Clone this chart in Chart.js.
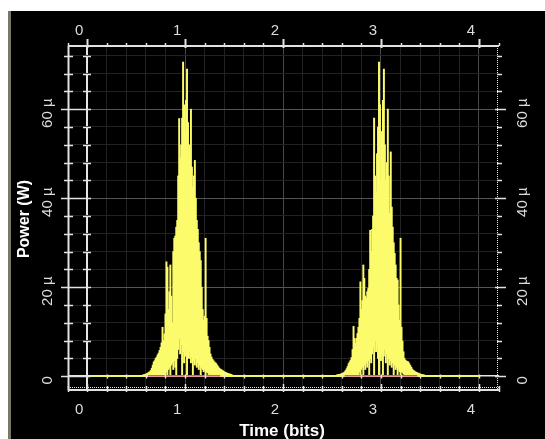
<!DOCTYPE html>
<html>
<head>
<meta charset="utf-8">
<script src="https://cdn.jsdelivr.net/npm/chart.js@4.4.0/dist/chart.umd.min.js"></script>
<style>
  html, body { margin: 0; padding: 0; background: #fff; }
  canvas { display: block; }
</style>
</head>
<body>
<canvas id="chart" width="545" height="439"></canvas>
<script>
// Axis ticks (time in bits, power in µW)
const xTickValues = [0, 1, 2, 3, 4];
const yTickValues = [0, 20, 40, 60];
const yTickLabels = ['0', '20 µ', '40 µ', '60 µ'];

// Pulse traces, sampled every 0.01 bit: upper and lower edge of the yellow trace (µW)
const sampleStep = 0.01;
const pulse1Start = 0.55;
const pulse1High = [
  0.2, 0.2, 0.3, 0.3, 0.4, 0.5, 0.6, 0.7, 0.9, 1.0,
  1.3, 1.8, 2.5, 3.2, 3.5, 4.0, 4.3, 4.8, 5.2, 5.8,
  6.5, 7.5, 11.0, 8.0, 9.5, 14.0, 25.7, 24.5, 15.0, 19.0,
  25.0, 18.0, 12.0, 28.0, 31.0, 31.5, 33.5, 35.0, 45.0, 57.9,
  49.0, 52.0, 58.0, 70.6, 61.0, 55.0, 62.0, 69.0, 57.0, 50.0,
  52.0, 60.0, 47.0, 42.5, 45.0, 48.5, 40.0, 35.0, 33.0, 30.0,
  28.0, 26.0, 20.0, 15.0, 12.6, 13.5, 31.0, 13.0, 9.0, 8.0,
  6.5, 5.0, 4.3, 3.8, 3.5, 3.2, 3.0, 2.8, 2.4, 2.1,
  1.8, 1.6, 1.5, 1.3, 1.2, 1.0, 0.9, 0.8, 0.7, 0.6,
  0.5, 0.5, 0.4, 0.3, 0.2, 0.2
];
const pulse1Low = [
  0, 0, 0, 0, 0, 0, 0, 0, 0, 0,
  0, 0, 0, 0, 0, 0, 0, 0, 0, 0,
  0, 0, 0, 0, 0,
  0, 1.0, 0, 1.5, 2.0, 0, 2.5, 3.0, 1.5, 3.5,
  2.0, 0, 4.0, 6.0, 8.5, 5.0, 7.0, 0, 5.5, 3.0,
  6.0, 4.5, 0, 5.0, 4.0, 5.5, 3.0, 4.5, 0, 3.5,
  2.5, 4.0, 2.0, 3.0, 1.5, 2.5, 0, 2.0, 1.5, 1.0,
  1.5, 0, 1.0, 0.8, 0, 0.5,
  0, 0, 0, 0, 0, 0, 0, 0, 0, 0,
  0, 0, 0, 0, 0, 0, 0, 0, 0, 0,
  0, 0, 0, 0, 0
];
const pulse2Start = 2.55;
const pulse2High = [
  0.3, 0.3, 0.4, 0.4, 0.5, 0.6, 0.7, 0.8, 1.0, 1.3,
  1.7, 2.2, 2.8, 3.2, 3.6, 4.2, 6.0, 11.2, 8.5, 7.4,
  8.5, 9.6, 11.0, 13.0, 21.2, 15.0, 17.0, 25.0, 22.0, 18.0,
  17.5, 19.0, 19.7, 24.0, 32.8, 28.0, 33.0, 36.0, 58.0, 45.0,
  41.5, 50.0, 56.0, 70.6, 61.0, 44.0, 55.0, 62.0, 69.0, 52.0,
  44.0, 48.0, 60.0, 45.0, 36.6, 50.4, 38.0, 33.5, 30.0, 27.6,
  25.0, 22.0, 21.6, 16.0, 12.6, 31.0, 11.0, 7.9, 5.5, 4.0,
  3.6, 3.4, 3.3, 3.2, 2.8, 2.4, 2.0, 1.6, 1.3, 1.2,
  1.0, 0.9, 0.8, 0.7, 0.6, 0.5, 0.4, 0.4, 0.3, 0.3,
  0.2, 0.2, 0.1, 0.1, 0.1, 0.1
];
const pulse2Low = [
  0, 0, 0, 0, 0, 0, 0, 0, 0, 0,
  0, 0, 0, 0, 0, 0, 0, 0, 0, 0,
  0, 0, 0,
  1.0, 0, 1.5, 2.0, 0, 2.5, 1.5, 3.0, 2.0, 3.5,
  0, 4.0, 3.0, 5.0, 6.5, 0, 8.0, 5.5, 7.0, 4.0,
  0, 6.0, 3.5, 5.0, 0, 4.5, 6.0, 3.0, 5.0, 0,
  4.0, 2.5, 3.5, 2.0, 3.0, 0, 2.5, 1.5, 2.0, 0,
  1.5, 1.0, 0, 1.0, 0.8, 0.5,
  0, 0, 0, 0, 0, 0, 0, 0, 0, 0,
  0, 0, 0, 0, 0, 0, 0, 0, 0, 0,
  0, 0, 0, 0, 0, 0, 0
];

// flat part of the yellow trace and the small magenta trace under the pulses
const baselineTimes = [0, 4];
const baselineValues = [0, 0];
const residualTimes = [0.62, 1.36, 2.0, 2.63, 3.37];
const residualValues = [0.1, 0.1, null, 0.1, 0.1];

function pulseBars(start, high, low) {
  return high.map((h, i) => ({ x: +(start + i * sampleStep).toFixed(2), y: [low[i] || 0, h] }));
}
function points(xs, ys) {
  return xs.map((t, i) => ({ x: t, y: ys[i] }));
}

const gridX = [];
for (let i = 0; i <= 20; i++) gridX.push(+(i * 0.2).toFixed(1));
const gridY = [];
for (let v = 0; v <= 72; v += 4) gridY.push(v);

const isInt = v => Math.abs(v - Math.round(v)) < 1e-6;

const frame = {
  id: 'frame',
  beforeDraw(chart) {
    const c = chart.ctx;
    c.save();
    c.fillStyle = '#ffffff';
    c.fillRect(0, 0, chart.width, chart.height);
    c.fillStyle = '#000000';
    c.fillRect(8, 11, chart.width - 8, chart.height - 11);
    c.fillStyle = '#7a7668';
    c.fillRect(8, 11, 3, chart.height - 11);
    c.restore();
  },
  afterDatasetsDraw(chart) {
    const { ctx: c, chartArea: a, scales: { x, y } } = chart;
    const white = '#e2e2e2';
    const line = (x1, y1, x2, y2, w) => {
      c.lineWidth = w;
      c.beginPath();
      c.moveTo(x1, y1);
      c.lineTo(x2, y2);
      c.stroke();
    };
    c.save();
    c.strokeStyle = white;
    c.fillStyle = white;

    const y0 = Math.round(y.getPixelForValue(0)) + 0.5;
    const x0 = Math.round(x.getPixelForValue(0));

    // frame lines
    line(a.left, a.top, a.right, a.top, 2);
    line(a.left, a.bottom, a.right, a.bottom, 2);
    line(a.left + 0.5, a.top, a.left + 0.5, a.bottom, 2);
    c.setLineDash([1, 1]);
    line(a.right - 1.5, a.top, a.right - 1.5, a.bottom, 1);
    line(a.left, a.bottom - 2.5, a.right, a.bottom - 2.5, 1);
    c.setLineDash([]);

    // time ticks every 0.2 bit
    for (let i = -1; i <= 21; i++) {
      const px = Math.round(x.getPixelForValue(i * 0.2)) + 0.5;
      const major = i % 5 === 0;
      line(px, a.top - (major ? 7 : 3), px, a.top + (major ? 2 : 0), major ? 2 : 1.5);
      line(px, a.bottom - (major ? 6 : 4), px, a.bottom + 2, 1.5);
      if (i >= 0 && i <= 20) line(px, y0 - 2, px, y0 + 2, 1.5);
    }

    // power ticks every 4 µW
    for (let v = 0; v <= 72; v += 4) {
      const py = Math.round(y.getPixelForValue(v)) + 0.5;
      if (v % 20 === 0) {
        line(a.left - 7, py, x0 + 4, py, 1.5);
        line(a.right - 4, py, a.right + 7, py, 1.5);
      } else {
        line(a.left - 4, py, a.left + 5, py, 1.5);
        line(x0 - 4, py, x0 + 4, py, 1.5);
        line(a.right - 2, py, a.right + 3, py, 1.5);
      }
    }

    // tick labels
    c.fillStyle = '#dcdcdc';
    c.font = '15px "Liberation Sans", Arial, sans-serif';
    c.textAlign = 'center';
    c.textBaseline = 'middle';
    xTickValues.forEach(v => {
      const px = x.getPixelForValue(v) - 8;
      c.fillText(String(v), px, 31);
      c.fillText(String(v), px, 410);
    });
    yTickValues.forEach((v, i) => {
      const py = y.getPixelForValue(v) + 4;
      [48, 523].forEach(px => {
        c.save();
        c.translate(px, py);
        c.rotate(-Math.PI / 2);
        c.fillText(yTickLabels[i], 0, 0);
        c.restore();
      });
    });

    // axis titles
    c.fillStyle = '#ffffff';
    c.font = 'bold 17px "Liberation Sans", Arial, sans-serif';
    c.fillText('Time (bits)', 282, 431);
    c.font = 'bold 16px "Liberation Sans", Arial, sans-serif';
    c.save();
    c.translate(25, 219);
    c.rotate(-Math.PI / 2);
    c.fillText('Power (W)', 0, 0);
    c.restore();
    c.restore();
  }
};

new Chart(document.getElementById('chart'), {
  type: 'line',
  data: {
    datasets: [
      {
        type: 'line',
        data: points(residualTimes, residualValues),
        borderColor: '#e040e0',
        borderWidth: 1.5,
        pointRadius: 0,
        spanGaps: false,
        order: 1
      },
      {
        type: 'line',
        data: points(baselineTimes, baselineValues),
        borderColor: '#f4f46a',
        borderWidth: 1.5,
        pointRadius: 0,
        order: 2
      },
      {
        type: 'bar',
        data: pulseBars(pulse1Start, pulse1High, pulse1Low)
          .concat(pulseBars(pulse2Start, pulse2High, pulse2Low)),
        backgroundColor: '#fbfb6c',
        borderWidth: 0,
        barThickness: 1.3,
        order: 3
      }
    ]
  },
  options: {
    responsive: false,
    animation: false,
    events: [],
    layout: { padding: { left: 68, right: 46, top: 46, bottom: 49 } },
    plugins: { legend: { display: false }, tooltip: { enabled: false } },
    scales: {
      x: {
        type: 'linear',
        min: -0.195,
        max: 4.205,
        offset: false,
        ticks: { display: false },
        afterBuildTicks: s => { s.ticks = gridX.map(v => ({ value: v })); },
        grid: {
          offset: false,
          drawTicks: false,
          color: ctx => ctx.tick.value === 0 ? '#e6e6e6' : (isInt(ctx.tick.value) ? '#484848' : '#222222'),
          lineWidth: ctx => ctx.tick.value === 0 ? 2 : 1
        },
        border: { display: false }
      },
      y: {
        type: 'linear',
        min: -3.1,
        max: 74.2,
        ticks: { display: false },
        afterBuildTicks: s => { s.ticks = gridY.map(v => ({ value: v })); },
        grid: {
          drawTicks: false,
          color: ctx => ctx.tick.value === 0 ? '#e6e6e6' : (ctx.tick.value % 20 === 0 ? '#555555' : '#222222'),
          lineWidth: ctx => ctx.tick.value === 0 ? 1.5 : 1
        },
        border: { display: false }
      }
    }
  },
  plugins: [frame]
});
</script>
</body>
</html>
